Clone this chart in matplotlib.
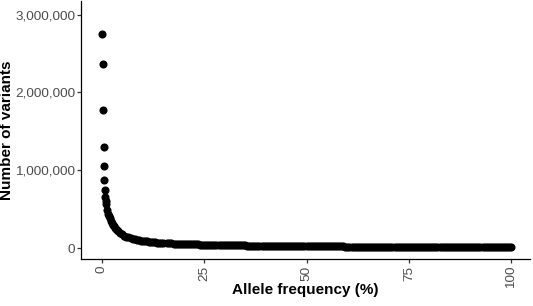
import matplotlib
matplotlib.use("Agg")
import matplotlib.pyplot as plt
from matplotlib.ticker import FuncFormatter

plt.rcParams['font.family'] = ['Liberation Sans', 'DejaVu Sans']

# Allele frequency (%) and number of variants
freq_low = [0.1, 0.2, 0.3, 0.4, 0.5, 0.6, 0.7, 0.8, 0.9, 1.0,
            1.25, 1.5, 1.75, 2.0, 2.25, 2.5, 2.75, 3.0, 3.25, 3.5, 3.75, 4.0]
count_low = [2750000, 2360000, 1780000, 1300000, 1060000, 870000, 740000, 650000, 600000, 560000,
             490000, 440000, 410000, 380000, 350000, 320000, 300000, 280000, 262000, 245000, 230000, 215000]

freq_mid = [4.5, 5.0, 5.5, 6.0, 6.5, 7.0, 7.5, 8.0, 8.5, 9.0, 9.5, 10.0,
            10.5, 11.0, 11.5, 12.0, 12.5, 13.0, 13.5, 14.0, 14.5, 15.0]
count_mid = [195000, 175000, 160000, 148000, 138000, 128000, 120000, 113000, 107000, 101000, 96000, 92000,
             88000, 85000, 82000, 79000, 76000, 74000, 71000, 69000, 67000, 65000]

# 16 % to 100 % in 0.5 % bins
freq_high = [16 + 0.5 * i for i in range(169)]
count_high = [62000, 60500, 59000, 57500, 56000, 55000, 54000, 53000, 52000, 51000,
              50000, 49000, 48000, 47000, 46000, 45500, 45000, 44000, 43000,
              42500, 42000, 41500, 41000, 40500, 40000, 39500, 39000, 38500, 38000,
              37500, 37000, 36500, 36000, 35500, 35000, 34500, 34000, 33500, 33000,
              32500, 32000, 31500, 31000, 31000, 30500, 30000, 30000, 29500, 29000,
              29000, 28500, 28000, 28000, 27500, 27000, 27000, 26500, 26500, 26000,
              26000, 25500, 25500, 25000, 25000, 24500, 24500, 24000, 24000, 23500,
              23500, 23000, 23000, 22500, 22500, 22000, 22000, 22000, 21500, 21500,
              21000, 21000, 21000, 20500, 20500, 20000, 20000, 20000, 19500, 19500,
              19500, 19000, 19000, 19000, 18500, 18500, 18500, 18000, 18000, 18000,
              18000, 17500, 17500, 17500, 17500, 17000, 17000, 17000, 17000, 16500,
              16500, 16500, 16500, 16000, 16000, 16000, 16000, 15500, 15500, 15500,
              15500, 15500, 15000, 15000, 15000, 15000, 15000, 14500, 14500, 14500,
              14500, 14500, 14500, 14000, 14000, 14000, 14000, 14000, 14000, 13500,
              13500, 13500, 13500, 13500, 13500, 13000, 13000, 13000, 13000, 13000,
              13000, 12500, 12500, 12500, 12500, 12500, 12500, 12000, 12000, 12000,
              12000, 12000, 12000, 11500, 11500, 11500, 11500, 11000, 11000, 11000]

x_ticks = [0, 25, 50, 75, 100]
y_ticks = [0, 1000000, 2000000, 3000000]

freq = freq_low + freq_mid + freq_high
count = count_low + count_mid + count_high

fig = plt.figure(figsize=(5.33, 3.06), dpi=100)
ax = fig.add_axes([81/533, 1 - 259/306, 449/533, 259/306 - 0.002])

ax.scatter(freq, count, s=34, color='black', linewidths=0, zorder=3)

ax.set_xlim(-5.1, 104.6)
ax.set_ylim(-141000, 3180000)
ax.set_xticks(x_ticks)
ax.set_yticks(y_ticks)
ax.yaxis.set_major_formatter(FuncFormatter(lambda v, p: f"{int(v):,}"))

for s in ['top', 'right']:
    ax.spines[s].set_visible(False)
for s in ['left', 'bottom']:
    ax.spines[s].set_linewidth(0.9)
    ax.spines[s].set_color('black')

ax.tick_params(axis='both', length=3, width=0.9, color='#333333',
               labelcolor='#4D4D4D', labelsize=9.7, pad=1)
ax.tick_params(axis='x', labelrotation=90, pad=2)

ax.set_xlabel('Allele frequency (%)', fontsize=11, fontweight='bold')
ax.set_ylabel('Number of variants', fontsize=11, fontweight='bold')
ax.xaxis.set_label_coords(0.5, -0.093)
ax.xaxis.label.set_va('top')
ax.yaxis.set_label_coords(-0.149, 0.5)

fig.savefig('out.png', dpi=100)
